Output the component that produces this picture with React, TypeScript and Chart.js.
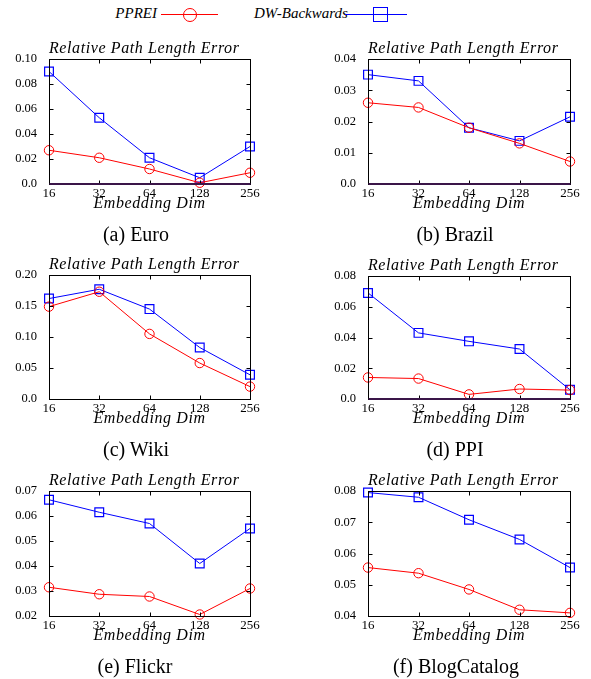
import React, { useEffect, useRef } from "react";
import { Chart, registerables } from "chart.js";
Chart.register(...registerables);

const FONT = "'Liberation Serif', 'Times New Roman', serif";

// ---------- data ----------
const dims = ["16", "32", "64", "128", "256"];

const euroPPREI = [0.027, 0.021, 0.012, 0.001, 0.009];
const euroDW = [0.09, 0.053, 0.021, 0.005, 0.03];
const euroYTicks = ["0.0", "0.02", "0.04", "0.06", "0.08", "0.10"];

const brazilPPREI = [0.026, 0.0245, 0.018, 0.013, 0.0072];
const brazilDW = [0.035, 0.033, 0.018, 0.0138, 0.0215];
const brazilYTicks = ["0.0", "0.01", "0.02", "0.03", "0.04"];

const wikiPPREI = [0.149, 0.173, 0.105, 0.058, 0.02];
const wikiDW = [0.162, 0.177, 0.145, 0.083, 0.039];
const wikiYTicks = ["0.0", "0.05", "0.10", "0.15", "0.20"];

const ppiPPREI = [0.014, 0.0133, 0.003, 0.0065, 0.0058];
const ppiDW = [0.069, 0.043, 0.0375, 0.0325, 0.006];
const ppiYTicks = ["0.0", "0.02", "0.04", "0.06", "0.08"];

const flickrPPREI = [0.0315, 0.0287, 0.0278, 0.0206, 0.031];
const flickrDW = [0.0665, 0.0615, 0.057, 0.041, 0.055];
const flickrYTicks = ["0.02", "0.03", "0.04", "0.05", "0.06", "0.07"];

const blogPPREI = [0.0555, 0.0537, 0.0485, 0.042, 0.041];
const blogDW = [0.0795, 0.078, 0.0708, 0.0645, 0.0555];
const blogYTicks = ["0.04", "0.05", "0.06", "0.07", "0.08"];

const seriesNames = ["PPREI", "DW-Backwards"];
const panelTitle = "Relative Path Length Error";
const xTitle = "Embedding Dim";
const captions = ["(a) Euro", "(b) Brazil", "(c) Wiki", "(d) PPI", "(e) Flickr", "(f) BlogCatalog"];

// ---------- layout ----------
const panels = [
  { a: euroPPREI, b: euroDW, ticks: euroYTicks, L: 49, R: 250, T: 59, B: 184, ox: 0, cx: 136, purple: true },
  { a: brazilPPREI, b: brazilDW, ticks: brazilYTicks, L: 368, R: 570, T: 59, B: 184, ox: 300, cx: 455, purple: true },
  { a: wikiPPREI, b: wikiDW, ticks: wikiYTicks, L: 49, R: 250, T: 275, B: 399, ox: 0, cx: 136, purple: false },
  { a: ppiPPREI, b: ppiDW, ticks: ppiYTicks, L: 368, R: 570, T: 276, B: 399, ox: 300, cx: 455, purple: true },
  { a: flickrPPREI, b: flickrDW, ticks: flickrYTicks, L: 49, R: 250, T: 491, B: 616, ox: 0, cx: 135, purple: false },
  { a: blogPPREI, b: blogDW, ticks: blogYTicks, L: 368, R: 570, T: 491, B: 616, ox: 300, cx: 456, purple: false },
];

const PAD_TOP = 8;
const PAD_RIGHT = 14;
const X_AXIS_H = 20;

const framePlugin = {
  id: "frame",
  afterDatasetsDraw(chart: any, _args: any, opts: any) {
    const { ctx, chartArea: a, scales } = chart;
    const xs = scales.x;
    const ys = scales.y;
    const left = Math.round(a.left) + 0.5;
    const right = Math.round(a.right) + 0.5;
    const top = Math.round(a.top) + 0.5;
    const bottom = Math.round(a.bottom) + 0.5;
    const tl = 4;
    ctx.save();
    ctx.strokeStyle = "#000";
    ctx.lineWidth = 1;
    ctx.beginPath();
    ys.ticks.forEach((t: any) => {
      const py = Math.round(ys.getPixelForValue(t.value)) + 0.5;
      ctx.moveTo(left, py);
      ctx.lineTo(left + tl, py);
      ctx.moveTo(right, py);
      ctx.lineTo(right - tl, py);
    });
    xs.ticks.forEach((_t: any, i: number) => {
      const px = Math.round(xs.getPixelForTick(i)) + 0.5;
      ctx.moveTo(px, top);
      ctx.lineTo(px, top + tl);
      ctx.moveTo(px, bottom);
      ctx.lineTo(px, bottom - tl);
    });
    ctx.stroke();
    ctx.strokeRect(left, top, right - left, bottom - top);
    if (opts && opts.purple) {
      ctx.strokeStyle = "#3a1548";
      ctx.lineWidth = 2;
      ctx.beginPath();
      ctx.moveTo(left, Math.round(a.bottom));
      ctx.lineTo(right, Math.round(a.bottom));
      ctx.stroke();
    }
    ctx.restore();
  },
};

function Panel({ p }: { p: any }) {
  const ref = useRef<HTMLCanvasElement | null>(null);
  const yw = p.L - p.ox;
  const cw = p.R - p.ox + PAD_RIGHT;
  const ch = p.B - p.T + PAD_TOP + X_AXIS_H;
  useEffect(() => {
    if (!ref.current) return;
    const tickVals = p.ticks.map((s: string) => parseFloat(s));
    const chart = new Chart(ref.current, {
      type: "line",
      data: {
        labels: dims,
        datasets: [
          {
            label: seriesNames[0],
            data: p.a,
            borderColor: "#ff0000",
            borderWidth: 1,
            pointStyle: "circle",
            pointRadius: 4.7,
            pointBorderWidth: 1,
            pointBorderColor: "#ff0000",
            pointBackgroundColor: "rgba(0,0,0,0)",
            tension: 0,
            clip: false as any,
          },
          {
            label: seriesNames[1],
            data: p.b,
            borderColor: "#0000ff",
            borderWidth: 1,
            pointStyle: "rect",
            pointRadius: 6.2,
            pointBorderWidth: 1.2,
            pointBorderColor: "#0000ff",
            pointBackgroundColor: "rgba(0,0,0,0)",
            tension: 0,
            clip: false as any,
          },
        ],
      },
      options: {
        responsive: false,
        animation: false,
        devicePixelRatio: 1,
        layout: { padding: { left: 0, top: PAD_TOP, right: PAD_RIGHT, bottom: 0 } },
        plugins: {
          legend: { display: false },
          tooltip: { enabled: false },
          frame: { purple: p.purple },
        } as any,
        scales: {
          x: {
            type: "category",
            offset: false,
            grid: { display: false, drawTicks: false },
            border: { display: false },
            ticks: {
              font: { family: FONT, size: 13 },
              color: "#000",
              padding: 2,
              maxRotation: 0,
              autoSkip: false,
            },
            afterFit(s: any) {
              s.height = X_AXIS_H;
              s.paddingLeft = 0;
              s.paddingRight = 0;
            },
          },
          y: {
            type: "linear",
            min: tickVals[0],
            max: tickVals[tickVals.length - 1],
            grid: { display: false, drawTicks: false },
            border: { display: false },
            ticks: {
              font: { family: FONT, size: 12.5 },
              color: "#000",
              padding: 12,
              callback: (v: any) => {
                const i = tickVals.findIndex((t: number) => Math.abs(t - v) < 1e-9);
                return i >= 0 ? p.ticks[i] : "";
              },
            },
            afterBuildTicks(s: any) {
              s.ticks = tickVals.map((v: number) => ({ value: v }));
            },
            afterFit(s: any) {
              s.width = yw;
              s.paddingTop = 0;
              s.paddingBottom = 0;
            },
          },
        },
      },
      plugins: [framePlugin as any],
    });
    return () => chart.destroy();
  }, []);

  const titleFs = 16;
  const capFs = 20;
  return (
    <>
      <canvas
        ref={ref}
        width={cw}
        height={ch}
        style={{ position: "absolute", left: p.ox, top: p.T - PAD_TOP, width: cw, height: ch }}
      />
      <div
        style={{
          position: "absolute",
          left: p.L,
          top: p.T - 6 - 0.8375 * titleFs,
          fontFamily: FONT,
          fontStyle: "italic",
          fontSize: titleFs,
          lineHeight: `${titleFs}px`,
          letterSpacing: "0.6px",
          whiteSpace: "nowrap",
        }}
      >
        {panelTitle}
      </div>
      <div
        style={{
          position: "absolute",
          left: p.L,
          width: p.R - p.L,
          textAlign: "center",
          top: p.B + 24.5 - 0.8375 * titleFs,
          fontFamily: FONT,
          fontStyle: "italic",
          fontSize: titleFs,
          lineHeight: `${titleFs}px`,
          letterSpacing: "0.6px",
          whiteSpace: "nowrap",
        }}
      >
        {xTitle}
      </div>
      <div
        style={{
          position: "absolute",
          left: p.cx - 120,
          width: 240,
          textAlign: "center",
          top: p.B + 57 - 0.8375 * capFs,
          fontFamily: FONT,
          fontSize: capFs,
          lineHeight: `${capFs}px`,
          whiteSpace: "nowrap",
        }}
      >
        {p.caption}
      </div>
    </>
  );
}

export default function App() {
  const legFs = 15;
  const legText: React.CSSProperties = {
    position: "absolute",
    top: 19 - 0.8375 * legFs,
    fontFamily: FONT,
    fontStyle: "italic",
    fontSize: legFs,
    lineHeight: `${legFs}px`,
    whiteSpace: "nowrap",
  };
  return (
    <div
      style={{
        position: "absolute",
        left: 0,
        top: 0,
        width: 591,
        height: 679,
        background: "#fff",
        overflow: "hidden",
      }}
    >
      {/* legend */}
      <div style={{ ...legText, left: 0, width: 157, textAlign: "right" }}>{seriesNames[0]}</div>
      <div style={{ position: "absolute", left: 161, top: 14, width: 57, height: 0, borderTop: "1px solid #ff0000" }} />
      <div
        style={{
          position: "absolute",
          left: 183,
          top: 7.5,
          width: 14,
          height: 14,
          boxSizing: "border-box",
          border: "1.5px solid #ff0000",
          borderRadius: "50%",
        }}
      />
      <div style={{ ...legText, left: 254 }}>{seriesNames[1]}</div>
      <div style={{ position: "absolute", left: 345, top: 14, width: 62, height: 0, borderTop: "1px solid #0000ff" }} />
      <div
        style={{
          position: "absolute",
          left: 372.5,
          top: 7,
          width: 15,
          height: 15,
          boxSizing: "border-box",
          border: "1.5px solid #0000ff",
        }}
      />
      {panels.map((p, i) => (
        <Panel key={i} p={{ ...p, caption: captions[i] }} />
      ))}
    </div>
  );
}
